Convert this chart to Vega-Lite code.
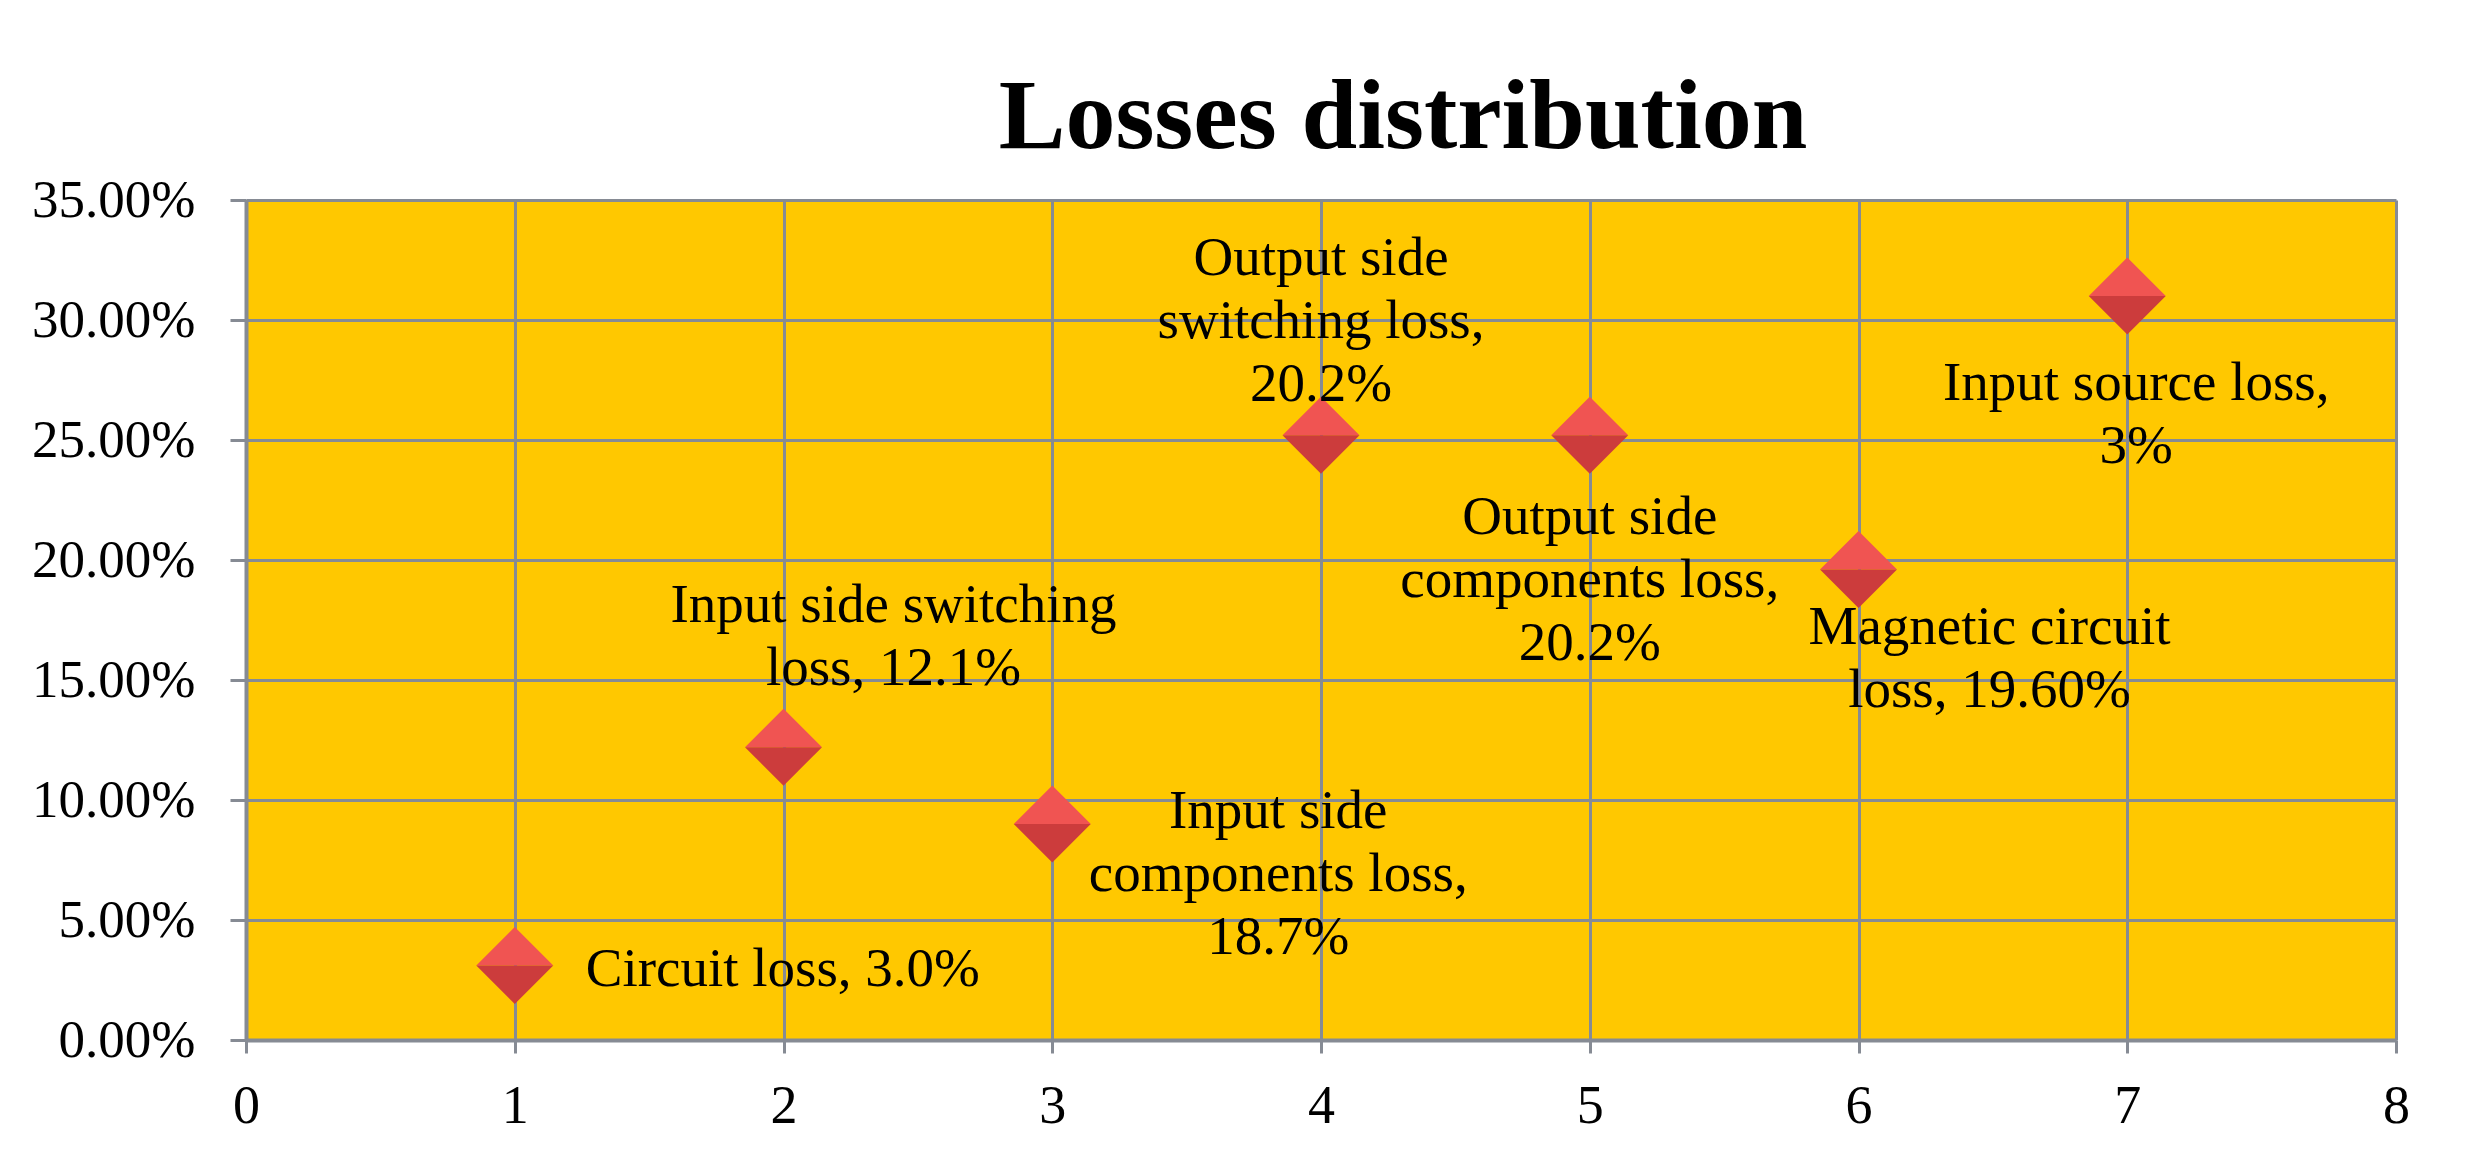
{
  "$schema": "https://vega.github.io/schema/vega-lite/v6.json",
  "width": 2150,
  "height": 840,
  "autosize": {"type": "none"},
  "padding": {"left": 246, "top": 200, "right": 78, "bottom": 124},
  "background": "white",
  "title": {
    "text": "Losses distribution",
    "font": "Liberation Serif",
    "fontSize": 100,
    "fontWeight": "bold",
    "color": "black",
    "anchor": "middle",
    "dx": 82,
    "dy": 129,
    "baseline": "alphabetic",
    "offset": 55
  },
  "config": {
    "view": {"fill": "#FFC800", "stroke": null},
    "axis": {
      "labelFont": "Liberation Serif",
      "labelColor": "black",
      "labelFlush": false,
      "gridColor": "#868B94",
      "gridWidth": 3,
      "gridOpacity": 1,
      "domainColor": "#868B94",
      "domainWidth": 4,
      "tickColor": "#868B94",
      "tickWidth": 3,
      "title": null
    }
  },
  "data": {
    "values": [
      {"x": 1, "y": 0.031, "label": "Circuit loss, 3.0%"},
      {"x": 2, "y": 0.122, "label": "Input side switching\nloss, 12.1%"},
      {"x": 3, "y": 0.09, "label": "Input side\ncomponents loss,\n18.7%"},
      {"x": 4, "y": 0.252, "label": "Output side\nswitching loss,\n20.2%"},
      {"x": 5, "y": 0.252, "label": "Output side\ncomponents loss,\n20.2%"},
      {"x": 6, "y": 0.196, "label": "Magnetic circuit\nloss, 19.60%"},
      {"x": 7, "y": 0.31, "label": "Input source loss,\n3%"}
    ]
  },
  "encoding": {
    "x": {
      "field": "x",
      "type": "quantitative",
      "scale": {"domain": [0, 8], "nice": false},
      "axis": {
        "values": [0, 1, 2, 3, 4, 5, 6, 7, 8],
        "format": "d",
        "labelFontSize": 54,
        "labelFlush": false,
        "tickSize": 13,
        "labelPadding": 26,
        "grid": true
      }
    },
    "y": {
      "field": "y",
      "type": "quantitative",
      "scale": {"domain": [0, 0.35], "nice": false},
      "axis": {
        "values": [0, 0.05, 0.1, 0.15, 0.2, 0.25, 0.3, 0.35],
        "format": ".2%",
        "labelFontSize": 53,
        "labelFlush": false,
        "tickSize": 16,
        "labelPadding": 35,
        "grid": true
      }
    }
  },
  "layer": [
    {
      "mark": {"type": "point", "filled": true, "shape": "M-1,0L0,-1L1,0Z", "size": 5929, "fill": "#F05452", "strokeWidth": 0, "opacity": 1}
    },
    {
      "mark": {"type": "point", "filled": true, "shape": "M-1,0L0,1L1,0Z", "size": 5929, "fill": "#CC3C3C", "strokeWidth": 0, "opacity": 1}
    },
    {
      "transform": [{"filter": "datum.x == 1"}],
      "mark": {"type": "text", "font": "Liberation Serif", "fontSize": 55, "color": "black", "lineBreak": "\n", "lineHeight": 63, "align": "left", "baseline": "middle", "dx": 71, "dy": 3},
      "encoding": {"text": {"field": "label"}}
    },
    {
      "transform": [{"filter": "datum.x == 2"}],
      "mark": {"type": "text", "font": "Liberation Serif", "fontSize": 55, "color": "black", "lineBreak": "\n", "lineHeight": 63, "align": "center", "baseline": "middle", "dx": 110, "dy": -142},
      "encoding": {"text": {"field": "label"}}
    },
    {
      "transform": [{"filter": "datum.x == 3"}],
      "mark": {"type": "text", "font": "Liberation Serif", "fontSize": 55, "color": "black", "lineBreak": "\n", "lineHeight": 63, "align": "center", "baseline": "middle", "dx": 226, "dy": -13},
      "encoding": {"text": {"field": "label"}}
    },
    {
      "transform": [{"filter": "datum.x == 4"}],
      "mark": {"type": "text", "font": "Liberation Serif", "fontSize": 55, "color": "black", "lineBreak": "\n", "lineHeight": 63, "align": "center", "baseline": "middle", "dx": 0, "dy": -177},
      "encoding": {"text": {"field": "label"}}
    },
    {
      "transform": [{"filter": "datum.x == 5"}],
      "mark": {"type": "text", "font": "Liberation Serif", "fontSize": 55, "color": "black", "lineBreak": "\n", "lineHeight": 63, "align": "center", "baseline": "middle", "dx": 0, "dy": 82},
      "encoding": {"text": {"field": "label"}}
    },
    {
      "transform": [{"filter": "datum.x == 6"}],
      "mark": {"type": "text", "font": "Liberation Serif", "fontSize": 55, "color": "black", "lineBreak": "\n", "lineHeight": 63, "align": "center", "baseline": "middle", "dx": 131, "dy": 57},
      "encoding": {"text": {"field": "label"}}
    },
    {
      "transform": [{"filter": "datum.x == 7"}],
      "mark": {"type": "text", "font": "Liberation Serif", "fontSize": 55, "color": "black", "lineBreak": "\n", "lineHeight": 63, "align": "center", "baseline": "middle", "dx": 9, "dy": 87},
      "encoding": {"text": {"field": "label"}}
    }
  ]
}
